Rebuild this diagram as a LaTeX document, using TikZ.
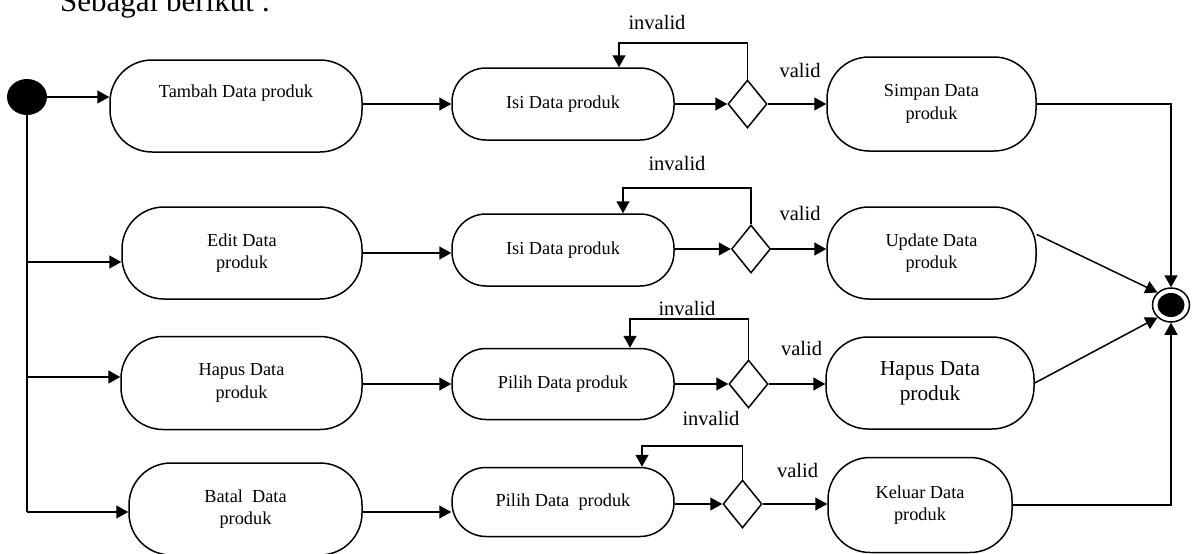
\documentclass[tikz,border=0pt]{standalone}
\usepackage{fontspec}
\setmainfont{Liberation Serif}
\usetikzlibrary{arrows.meta,shapes.geometric}
\begin{document}
\begin{tikzpicture}[x=1pt,y=1pt,
  every node/.style={font=\fontsize{18.3}{22.5}\selectfont},
  act/.style={draw, line width=1.5pt, rounded corners=42pt, align=center, inner sep=0pt},
  acts/.style={act, rounded corners=34pt},
  dec/.style={diamond, draw, line width=1.5pt, minimum width=39pt, minimum height=48pt, inner sep=0pt},
  arr/.style={line width=1.5pt, -{Triangle[length=12pt,width=13pt]}},
  ln/.style={line width=1.5pt},
  lbl/.style={font=\fontsize{20.5}{24}\selectfont, inner sep=0pt},
]
\useasboundingbox (0,0) rectangle (1194,-554);
\clip (0,0) rectangle (1194,-554);

% title (cut at top)
\node[font=\fontsize{31}{36}\selectfont, anchor=base west, inner sep=0pt] (title) at (60,-12) {Sebagai berikut :};

% start / end
\node[ellipse, fill=black, minimum width=40pt, minimum height=36pt, inner sep=0pt] (init) at (27,-97) {};
\node[ellipse, draw, fill=white, line width=1.5pt, minimum width=37pt, minimum height=34pt, inner sep=0pt] (final) at (1171,-305) {};
\node[ellipse, fill=black, minimum width=27pt, minimum height=24pt, inner sep=0pt] (finalin) at (final) {};

% row 1
\node[act, minimum width=252pt, minimum height=92pt] (tambah) at (236,-106) {Tambah Data produk\\\strut};
\node[acts, minimum width=222pt, minimum height=72pt] (isi1) at (563,-104) {Isi Data produk};
\node[dec] (d1) at (747.5,-104) {};
\node[act, minimum width=209pt, minimum height=94pt] (simpan) at (931.5,-104) {Simpan Data\\produk};

% row 2
\node[act, minimum width=240pt, minimum height=92pt] (edit) at (242,-253) {Edit Data\\produk};
\node[acts, minimum width=222pt, minimum height=72pt] (isi2) at (563,-250) {Isi Data produk};
\node[dec] (d2) at (751,-249) {};
\node[act, minimum width=209pt, minimum height=92pt] (update) at (931.5,-253) {Update Data\\produk};

% row 3
\node[act, minimum width=241pt, minimum height=93pt] (hapus1) at (241.5,-383) {Hapus Data\\produk};
\node[acts, minimum width=222pt, minimum height=71pt] (pilih3) at (563,-384) {Pilih Data produk};
\node[dec] (d3) at (748.5,-384) {};
\node[act, minimum width=208pt, minimum height=92pt, font=\fontsize{21.3}{25}\selectfont] (hapus2) at (930,-383) {Hapus Data\\produk};

% row 4
\node[act, minimum width=233pt, minimum height=92pt] (batal) at (245.5,-509) {Batal\ \ Data\\produk};
\node[acts, minimum width=222pt, minimum height=69pt] (pilih4) at (563,-502) {Pilih Data\ \ produk};
\node[dec] (d4) at (742.5,-504) {};
\node[act, minimum width=184pt, minimum height=95pt] (keluar) at (920,-505) {Keluar Data\\produk};

% labels
\node[lbl] (inv1) at (657,-22) {invalid};
\node[lbl] (inv2) at (677,-163) {invalid};
\node[lbl] (inv3) at (687,-308) {invalid};
\node[lbl] (inv4) at (711,-418) {invalid};
\node[lbl] (val1) at (800,-70) {valid};
\node[lbl] (val2) at (800,-213) {valid};
\node[lbl] (val3) at (801.5,-348) {valid};
\node[lbl] (val4) at (797.5,-470) {valid};

% junction coordinates on the left rail
\coordinate (j2) at (27,-262);
\coordinate (j3) at (27,-377);
\coordinate (j4) at (27,-512);

% loop corners
\coordinate (l1) at (619,-43);
\coordinate (l2) at (623,-188);
\coordinate (l3) at (630,-319);
\coordinate (l4) at (642,-446);

% left rail
\draw[ln] (init.south) -- (j4);
\draw[arr] (init.east) -- (init.east -| tambah.west);
\draw[arr] (j2) -- (j2 -| edit.west);
\draw[arr] (j3) -- (j3 -| hapus1.west);
\draw[arr] (j4) -- (j4 -| batal.west);

% row 1 connectors
\draw[arr] (tambah.east |- isi1) -- (isi1.west);
\draw[arr] (isi1.east) -- (d1.west);
\draw[arr] (d1.east) -- (d1.east -| simpan.west);
\draw[arr] (d1.north) |- (l1) -- (l1 |- isi1.north);
\draw[arr] (simpan.east) -| (final.north);

% row 2 connectors
\draw[arr] (edit.east) -- (edit.east -| isi2.west);
\draw[arr] (isi2.east |- d2) -- (d2.west);
\draw[arr] (d2.east) -- (d2.east -| update.west);
\draw[arr] (d2.north) |- (l2) -- (l2 |- isi2.north);
\draw[arr] (update.10) -- (final.north west);

% row 3 connectors
\draw[arr] (hapus1.east |- pilih3) -- (pilih3.west);
\draw[arr] (pilih3.east) -- (d3.west);
\draw[arr] (d3.east) -- (d3.east -| hapus2.west);
\draw[arr] (d3.north) |- (l3) -- (l3 |- pilih3.north);
\draw[arr] (hapus2.east) -- (final.south west);

% row 4 connectors
\draw[arr] (j4 -| batal.east) -- (j4 -| pilih4.west);
\draw[arr] (pilih4.east |- d4) -- (d4.west);
\draw[arr] (d4.east) -- (d4.east -| keluar.west);
\draw[arr] (d4.north) |- (l4) -- (l4 |- pilih4.north);
\draw[arr] (keluar.east) -| (final.south);
\end{tikzpicture}
\end{document}
